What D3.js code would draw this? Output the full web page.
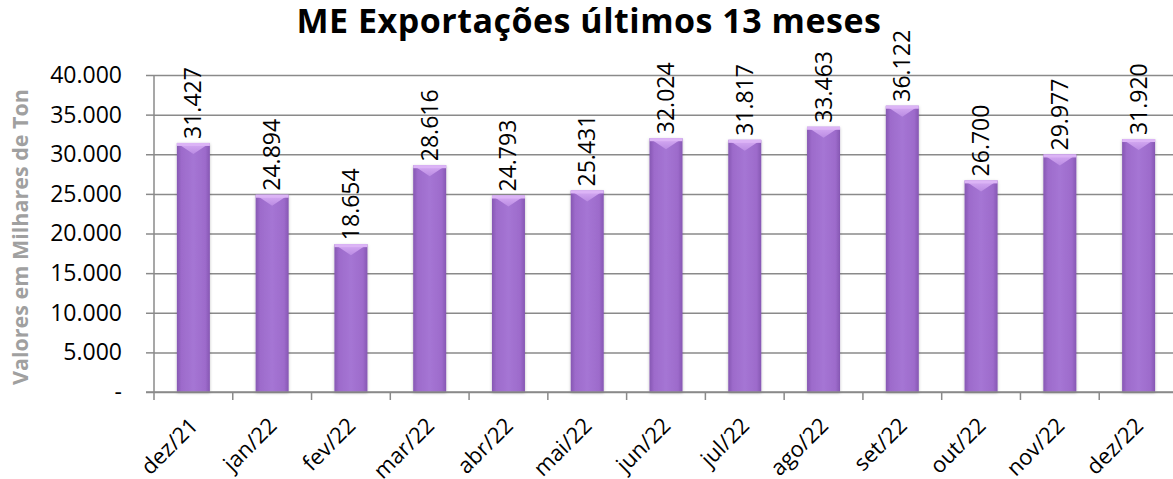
<!DOCTYPE html>
<html>
<head>
<meta charset="utf-8">
<script src="https://cdn.jsdelivr.net/npm/d3@7"></script>
<style>
  body { margin: 0; background: #fff; }
  svg { display: block; font-family: "Open Sans", Lato, sans-serif; }
</style>
</head>
<body>
<div id="chart"></div>
<script>
var months = ['dez/21', 'jan/22', 'fev/22', 'mar/22', 'abr/22', 'mai/22', 'jun/22',
  'jul/22', 'ago/22', 'set/22', 'out/22', 'nov/22', 'dez/22'];
var exportValues = [31427, 24894, 18654, 28616, 24793, 25431, 32024,
  31817, 33463, 36122, 26700, 29977, 31920];
var yTicks = [0, 5000, 10000, 15000, 20000, 25000, 30000, 35000, 40000];

var chartW = 1173, chartH = 479;
var plotLeft = 154, plotRight = 1178, plotTop = 75, plotBottom = 392;

var fmt = function(v){
  if (v === 0) return '-';
  return d3.format(',')(v).replace(/,/g, '.');
};

var svg = d3.select('#chart').append('svg')
  .attr('width', chartW)
  .attr('height', chartH);

var defs = svg.append('defs');
var g1 = defs.append('linearGradient').attr('id', 'barGrad')
  .attr('x1', 0).attr('x2', 1).attr('y1', 0).attr('y2', 0);
g1.append('stop').attr('offset', '0%').attr('stop-color', '#8657b3');
g1.append('stop').attr('offset', '14%').attr('stop-color', '#9d6bcb');
g1.append('stop').attr('offset', '50%').attr('stop-color', '#a575d4');
g1.append('stop').attr('offset', '86%').attr('stop-color', '#9d6bcb');
g1.append('stop').attr('offset', '100%').attr('stop-color', '#8657b3');

var g2 = defs.append('linearGradient').attr('id', 'bevelGrad')
  .attr('x1', 0).attr('x2', 0).attr('y1', 0).attr('y2', 1);
g2.append('stop').attr('offset', '0%').attr('stop-color', '#d7adf4');
g2.append('stop').attr('offset', '100%').attr('stop-color', '#bb8ce3');

var shadow = defs.append('filter').attr('id', 'shadow')
  .attr('x', '-20%').attr('y', '-5%').attr('width', '140%').attr('height', '110%');
shadow.append('feDropShadow')
  .attr('dx', 0).attr('dy', 1).attr('stdDeviation', 1.5)
  .attr('flood-color', '#000').attr('flood-opacity', 0.25);

var x = d3.scaleBand()
  .domain(months)
  .range([plotLeft, plotRight])
  .paddingInner(0)
  .paddingOuter(0);

var y = d3.scaleLinear()
  .domain([0, 40000])
  .range([plotBottom, plotTop]);

// gridlines + y axis
var yAxis = d3.axisLeft(y)
  .tickValues(yTicks)
  .tickSize(-(plotRight - plotLeft))
  .tickSizeOuter(0)
  .tickFormat(fmt)
  .tickPadding(32);

var yg = svg.append('g')
  .attr('transform', 'translate(' + plotLeft + ',0)')
  .call(yAxis);
yg.select('.domain').remove();
yg.selectAll('.tick line').attr('stroke', '#8a8a8a').attr('stroke-width', 1.5);
yg.selectAll('.tick text')
  .attr('fill', '#000')
  .style('font-family', '"Open Sans", sans-serif')
  .style('font-size', '23px');

// small outward ticks on y
yg.selectAll('.tick').append('line')
  .attr('x1', -8).attr('x2', 0)
  .attr('stroke', '#8a8a8a').attr('stroke-width', 1.5);

svg.append('line')
  .attr('x1', plotLeft).attr('x2', plotLeft)
  .attr('y1', plotTop).attr('y2', plotBottom)
  .attr('stroke', '#8a8a8a').attr('stroke-width', 1.5);

// x axis ticks at band edges
var edges = months.map(function(m){ return x(m); });
svg.selectAll('.xtick')
  .data(edges)
  .enter()
  .append('line')
  .attr('class', 'xtick')
  .attr('x1', function(d){ return d; })
  .attr('x2', function(d){ return d; })
  .attr('y1', plotBottom)
  .attr('y2', plotBottom + 8)
  .attr('stroke', '#8a8a8a')
  .attr('stroke-width', 1.5);

var barW = 33;

var bars = svg.selectAll('.bar')
  .data(exportValues)
  .enter()
  .append('g')
  .attr('class', 'bar');

bars.append('rect')
  .attr('x', function(d, i){ return x(months[i]) + x.bandwidth() / 2 - barW / 2; })
  .attr('y', function(d){ return y(d); })
  .attr('width', barW)
  .attr('height', function(d){ return plotBottom - y(d); })
  .attr('fill', 'url(#barGrad)')
  .attr('filter', 'url(#shadow)');

bars.append('path')
  .attr('d', function(d, i){
    var x0 = x(months[i]) + x.bandwidth() / 2 - barW / 2;
    var t = y(d);
    return 'M' + x0 + ',' + t + 'L' + (x0 + barW) + ',' + t +
      'L' + (x0 + barW / 2) + ',' + (t + 11) + 'Z';
  })
  .attr('fill', 'url(#bevelGrad)');

bars.append('rect')
  .attr('x', function(d, i){ return x(months[i]) + x.bandwidth() / 2 - barW / 2; })
  .attr('y', function(d){ return y(d); })
  .attr('width', barW)
  .attr('height', 3)
  .attr('fill', '#dcb4f6');

// x axis line
svg.append('line')
  .attr('x1', plotLeft - 8).attr('x2', plotRight)
  .attr('y1', plotBottom).attr('y2', plotBottom)
  .attr('stroke', '#8a8a8a').attr('stroke-width', 1.5);

// value labels
svg.selectAll('.val')
  .data(exportValues)
  .enter()
  .append('text')
  .attr('class', 'val')
  .attr('transform', function(d, i){
    var cx = x(months[i]) + x.bandwidth() / 2;
    return 'translate(' + (cx + 8) + ',' + (y(d) - 4) + ') rotate(-90)';
  })
  .attr('text-anchor', 'start')
  .style('font-size', '23px')
  .attr('fill', '#000')
  .text(fmt);

// x labels
svg.selectAll('.xl')
  .data(months)
  .enter()
  .append('text')
  .attr('class', 'xl')
  .attr('transform', function(d){
    var cx = x(d) + x.bandwidth() / 2;
    return 'translate(' + (cx + 6) + ',' + (plotBottom + 35) + ') rotate(-45)';
  })
  .attr('text-anchor', 'end')
  .style('font-size', '22px')
  .attr('fill', '#000')
  .text(function(d){ return d; });

// title
svg.append('text')
  .attr('x', 589)
  .attr('y', 33)
  .attr('text-anchor', 'middle')
  .style('font-size', '34px')
  .style('font-weight', 'bold')
  .style('letter-spacing', '0.5px')
  .text('ME Exportações últimos 13 meses');

// y title
svg.append('text')
  .attr('transform', 'translate(28,' + 237 + ') rotate(-90)')
  .attr('text-anchor', 'middle')
  .style('font-size', '21.5px')
  .style('font-weight', 'bold')
  .attr('fill', '#a0a0a0')
  .text('Valores em Milhares de Ton');
</script>
</body>
</html>
